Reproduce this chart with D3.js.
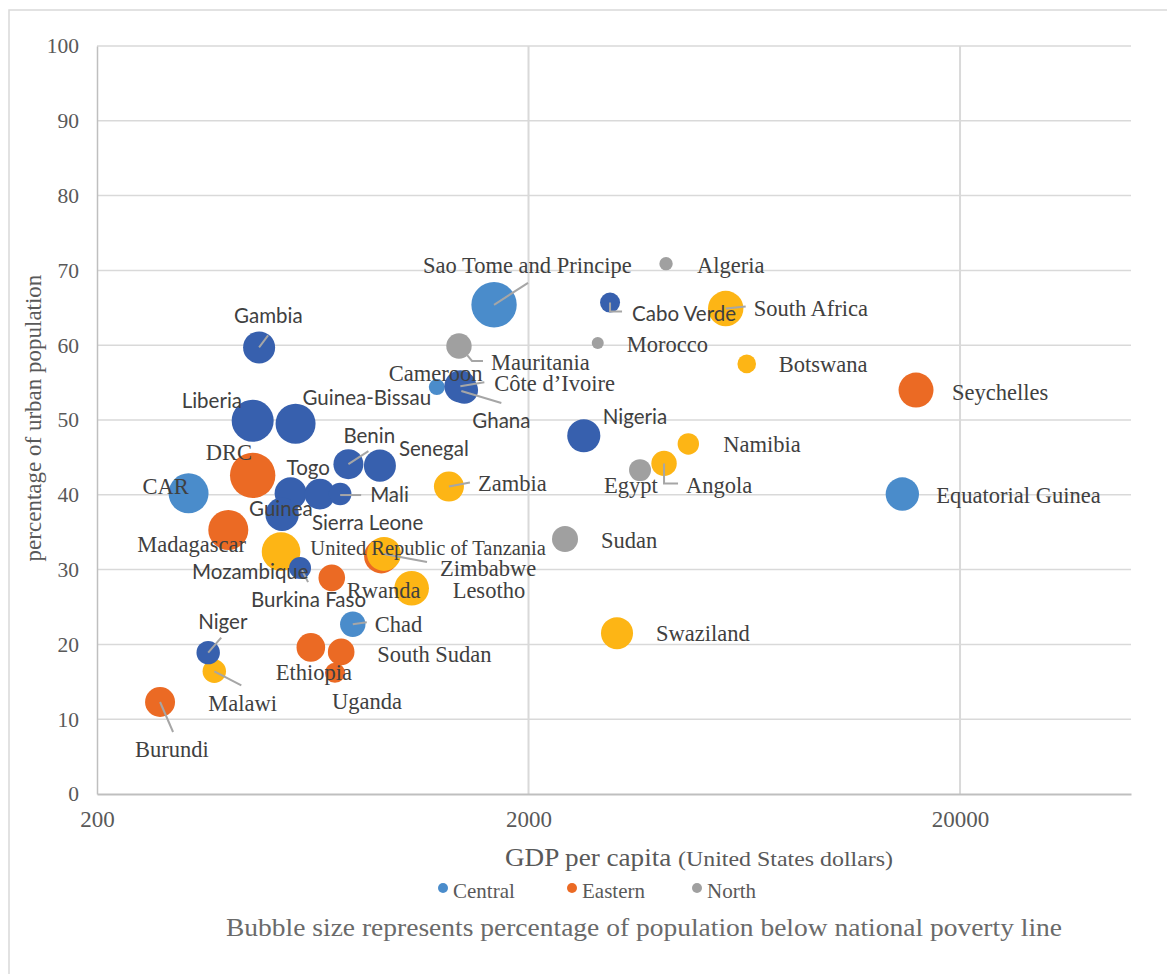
<!DOCTYPE html>
<html>
<head>
<meta charset="utf-8">
<script src="https://cdn.jsdelivr.net/npm/d3@7"></script>
<style>
  body { margin: 0; background: #fff; }
</style>
</head>
<body>
<div id="chart-area"></div>
<script>
// data
const regionNames = ["Central", "Eastern", "North", "Southern", "Western"];
const regionColors = ["#4a8ccb", "#eb6a24", "#a0a0a0", "#fdb515", "#3760ae"];

const countries = [
  "Sao Tome and Principe", "Cameroon", "CAR", "Chad", "Equatorial Guinea",
  "DRC", "Madagascar", "Rwanda", "United Republic of Tanzania", "Ethiopia", "South Sudan", "Uganda", "Burundi", "Seychelles",
  "Algeria", "Mauritania", "Morocco", "Egypt", "Sudan",
  "Zambia", "Mozambique", "Zimbabwe", "Lesotho", "Malawi", "South Africa", "Botswana", "Namibia", "Angola", "Swaziland",
  "Gambia", "Liberia", "Guinea-Bissau", "Benin", "Senegal", "Togo", "Sierra Leone", "Mali", "Guinea",
  "Ghana", "Côte d\u2019Ivoire", "Nigeria", "Cabo Verde", "Burkina Faso", "Niger"
];
const region = [
  "Central", "Central", "Central", "Central", "Central",
  "Eastern", "Eastern", "Eastern", "Eastern", "Eastern", "Eastern", "Eastern", "Eastern", "Eastern",
  "North", "North", "North", "North", "North",
  "Southern", "Southern", "Southern", "Southern", "Southern", "Southern", "Southern", "Southern", "Southern", "Southern",
  "Western", "Western", "Western", "Western", "Western", "Western", "Western", "Western", "Western",
  "Western", "Western", "Western", "Western", "Western", "Western"
];
// GDP per capita (US$)
const gdp = [
  1664, 1226, 326, 783, 14700,
  459, 403, 700, 912, 626, 736, 712, 280, 15814,
  4166, 1380, 2894, 3626, 2430,
  1308, 534, 925, 1072, 374, 5728, 6408, 4692, 4122, 3207,
  475, 459, 577, 765, 905, 562, 657, 732, 537,
  1420, 1390, 2686, 3090, 591, 362
];
// percentage of urban population
const urban = [
  65.4, 54.4, 40.2, 22.7, 40.1,
  42.6, 35.3, 28.9, 31.8, 19.6, 19.0, 16.2, 12.3, 54.0,
  70.9, 59.9, 60.3, 43.3, 34.1,
  41.1, 32.4, 32.1, 27.5, 16.4, 64.9, 57.5, 46.8, 44.2, 21.5,
  59.7, 49.9, 49.5, 44.1, 43.9, 40.2, 40.1, 40.1, 37.4,
  54.0, 54.5, 47.9, 65.7, 30.2, 18.9
];
// percentage below national poverty line (bubble size)
const poverty = [
  65.7, 8.2, 51, 20.6, 35.5,
  65.7, 51, 22.6, 38, 26.1, 22.6, 12.8, 28.7, 39,
  5.7, 20.6, 4.6, 15.4, 21.6,
  28.7, 47.5, 36.9, 38.2, 17.5, 40, 11, 14.6, 20.6, 32.7,
  32.7, 56.3, 51, 28.7, 32.7, 32.7, 30, 16.3, 35.5,
  24, 32.7, 35, 12.8, 15.4, 17.5
];

const yTicks = [0, 10, 20, 30, 40, 50, 60, 70, 80, 90, 100];
const xTicks = [200, 2000, 20000];
const legendShown = ["Central", "Eastern", "North"];

// label placement: offset of text start/baseline from the bubble centre, in px
const labelPos = {
  "Sao Tome and Principe": [-71, -32], "Cameroon": [-48, -6], "CAR": [-46, 1], "Chad": [22, 8],
  "Equatorial Guinea": [34, 9], "DRC": [-47, -15], "Madagascar": [-91, 22], "Rwanda": [15, 20],
  "United Republic of Tanzania": [-71, -1], "Ethiopia": [-35, 33], "South Sudan": [36, 10],
  "Uganda": [-3, 36], "Burundi": [-25, 55], "Seychelles": [36, 10], "Algeria": [31, 9],
  "Mauritania": [32, 24], "Morocco": [29, 9], "Egypt": [-36, 23], "Sudan": [36, 9],
  "Zambia": [29, 4], "Mozambique": [-89, 27], "Zimbabwe": [56, 22], "Lesotho": [41, 10],
  "Malawi": [-6, 40], "South Africa": [28, 7], "Botswana": [32, 8], "Namibia": [35, 8],
  "Angola": [22, 30], "Swaziland": [39, 8], "Gambia": [-25, -24], "Liberia": [-71, -13],
  "Guinea-Bissau": [7, -19], "Benin": [-5, -21], "Senegal": [19, -10], "Togo": [-4, -18],
  "Sierra Leone": [-8, 36], "Mali": [30, 8], "Guinea": [-33, 2], "Ghana": [8, 38],
  "Côte d\u2019Ivoire": [34, 5], "Nigeria": [19, -12], "Cabo Verde": [22, 18],
  "Burkina Faso": [-49, 39], "Niger": [-10, -24]
};
// leader lines, offsets from the bubble centre
const leaders = {
  "Sao Tome and Principe": [[0, 0], [34, -22]],
  "Mauritania": [[8, 9], [13, 15], [24, 15]],
  "Côte d\u2019Ivoire": [[0, 0], [24, -4]],
  "Ghana": [[-3, 1], [37, 13]],
  "Zambia": [[0, 0], [21, -4]],
  "South Africa": [[0, 0], [20, -2]],
  "Cabo Verde": [[0, 0], [0, 9], [12, 9]],
  "Angola": [[0, 0], [0, 20], [14, 20]],
  "Zimbabwe": [[0, 0], [43, 8]],
  "Chad": [[0, 0], [14, -2]],
  "Malawi": [[0, 0], [27, 14]],
  "Burundi": [[0, 0], [13, 30]],
  "Gambia": [[0, 0], [9, -12]],
  "Benin": [[0, 0], [20, -13]],
  "Mali": [[0, 1], [21, 1]],
  "Burkina Faso": [[2, 2], [8, 14]],
  "Niger": [[0, 0], [13, -15]]
};
const sansLabels = ["Gambia", "Liberia", "Guinea-Bissau", "Benin", "Senegal", "Togo", "Sierra Leone",
  "Mali", "Guinea", "Ghana", "Nigeria", "Cabo Verde", "Burkina Faso", "Niger", "Mozambique"];

const serif = "'Liberation Serif', 'Times New Roman', serif";
const sans = "Lato, 'Open Sans', sans-serif";

function labelSize(name) {
  if (name === "United Republic of Tanzania") return "20.5px";
  return sansLabels.indexOf(name) >= 0 ? "20.5px" : "22.5px";
}

const data = countries.map(function (c, i) {
  return { name: c, region: region[i], gdp: gdp[i], urban: urban[i], poverty: poverty[i] };
});

const svg = d3.select("#chart-area")
  .append("svg")
  .attr("width", 1167)
  .attr("height", 974);

svg.append("rect")
  .attr("x", 9).attr("y", 10)
  .attr("width", 1200).attr("height", 1000)
  .attr("fill", "#fff")
  .attr("stroke", "#d9d9d9")
  .attr("stroke-width", 1.5);

const plotLeft = 97, plotRight = 1131, plotTop = 46, plotBottom = 794;

const x = d3.scaleLog()
  .domain([200, 49800])
  .range([plotLeft, plotRight]);

const y = d3.scaleLinear()
  .domain([0, 100])
  .range([plotBottom, plotTop]);

const r = d3.scaleSqrt()
  .domain([0, 100])
  .range([0, 28]);

const color = d3.scaleOrdinal()
  .domain(regionNames)
  .range(regionColors);

// gridlines
svg.append("g")
  .selectAll("line")
  .data(yTicks.filter(function (d) { return d > 0; }))
  .enter().append("line")
  .attr("x1", plotLeft).attr("x2", plotRight)
  .attr("y1", function (d) { return y(d); })
  .attr("y2", function (d) { return y(d); })
  .attr("stroke", "#d9d9d9")
  .attr("stroke-width", 1.5);

svg.append("g")
  .selectAll("line")
  .data(xTicks.slice(1))
  .enter().append("line")
  .attr("x1", function (d) { return x(d); })
  .attr("x2", function (d) { return x(d); })
  .attr("y1", plotTop).attr("y2", plotBottom)
  .attr("stroke", "#d9d9d9")
  .attr("stroke-width", 2);

// axes
const yAxis = svg.append("g")
  .attr("transform", "translate(" + plotLeft + ",0)")
  .call(d3.axisLeft(y).tickValues(yTicks).tickSize(0).tickPadding(18));
const xAxis = svg.append("g")
  .attr("transform", "translate(0," + plotBottom + ")")
  .call(d3.axisBottom(x).tickValues(xTicks).tickFormat(d3.format("d")).tickSize(0).tickPadding(17));

yAxis.attr("font-family", null).attr("font-size", null);
xAxis.attr("font-family", null).attr("font-size", null);
yAxis.select(".domain").attr("stroke", "#bfbfbf").attr("stroke-width", 1.5);
xAxis.select(".domain").attr("stroke", "#bfbfbf").attr("stroke-width", 2);
yAxis.selectAll("text").style("font-family", serif).style("font-size", "21.5px").attr("fill", "#595959");
xAxis.selectAll("text").style("font-family", serif).style("font-size", "23px").attr("fill", "#595959");

// bubbles, one series after another
svg.append("g")
  .selectAll("circle")
  .data(data)
  .enter().append("circle")
  .attr("cx", function (d) { return x(d.gdp); })
  .attr("cy", function (d) { return y(d.urban); })
  .attr("r", function (d) { return r(d.poverty); })
  .attr("fill", function (d) { return color(d.region); });

// leader lines
svg.append("g")
  .selectAll("polyline")
  .data(data.filter(function (d) { return leaders[d.name]; }))
  .enter().append("polyline")
  .attr("points", function (d) {
    const cx = x(d.gdp), cy = y(d.urban);
    return leaders[d.name].map(function (p) { return (cx + p[0]) + "," + (cy + p[1]); }).join(" ");
  })
  .attr("fill", "none")
  .attr("stroke", "#a6a6a6")
  .attr("stroke-width", 2);

// country labels
svg.append("g")
  .selectAll("text")
  .data(data)
  .enter().append("text")
  .attr("x", function (d) { return x(d.gdp) + labelPos[d.name][0]; })
  .attr("y", function (d) { return y(d.urban) + labelPos[d.name][1]; })
  .style("font-family", function (d) { return sansLabels.indexOf(d.name) >= 0 ? sans : serif; })
  .style("font-size", function (d) { return labelSize(d.name); })
  .attr("fill", "#404040")
  .text(function (d) { return d.name; });

// axis titles
svg.append("text")
  .attr("transform", "translate(41,418) rotate(-90)")
  .attr("text-anchor", "middle")
  .style("font-family", serif)
  .style("font-size", "23px")
  .attr("fill", "#595959")
  .text("percentage of urban population");

const xt = svg.append("text")
  .attr("x", 505).attr("y", 866)
  .attr("textLength", 388)
  .attr("lengthAdjust", "spacingAndGlyphs")
  .style("font-family", serif)
  .attr("fill", "#595959");
xt.append("tspan").style("font-size", "25px").text("GDP per capita ");
xt.append("tspan").style("font-size", "22px").text("(United States dollars)");

// legend
const legend = svg.append("g")
  .selectAll("g")
  .data(legendShown)
  .enter().append("g")
  .attr("transform", function (d, i) { return "translate(" + [443, 572, 697][i] + ",888)"; });
legend.append("circle")
  .attr("r", 5)
  .attr("fill", function (d) { return color(d); });
legend.append("text")
  .attr("x", 10).attr("y", 10)
  .style("font-family", serif)
  .style("font-size", "21px")
  .attr("fill", "#595959")
  .text(function (d) { return d; });

svg.append("text")
  .attr("x", 226).attr("y", 936)
  .style("font-family", serif)
  .style("font-size", "25px")
  .attr("textLength", 836)
  .attr("lengthAdjust", "spacingAndGlyphs")
  .attr("fill", "#6a6a6a")
  .text("Bubble size represents percentage of population below national poverty line");
</script>
</body>
</html>
